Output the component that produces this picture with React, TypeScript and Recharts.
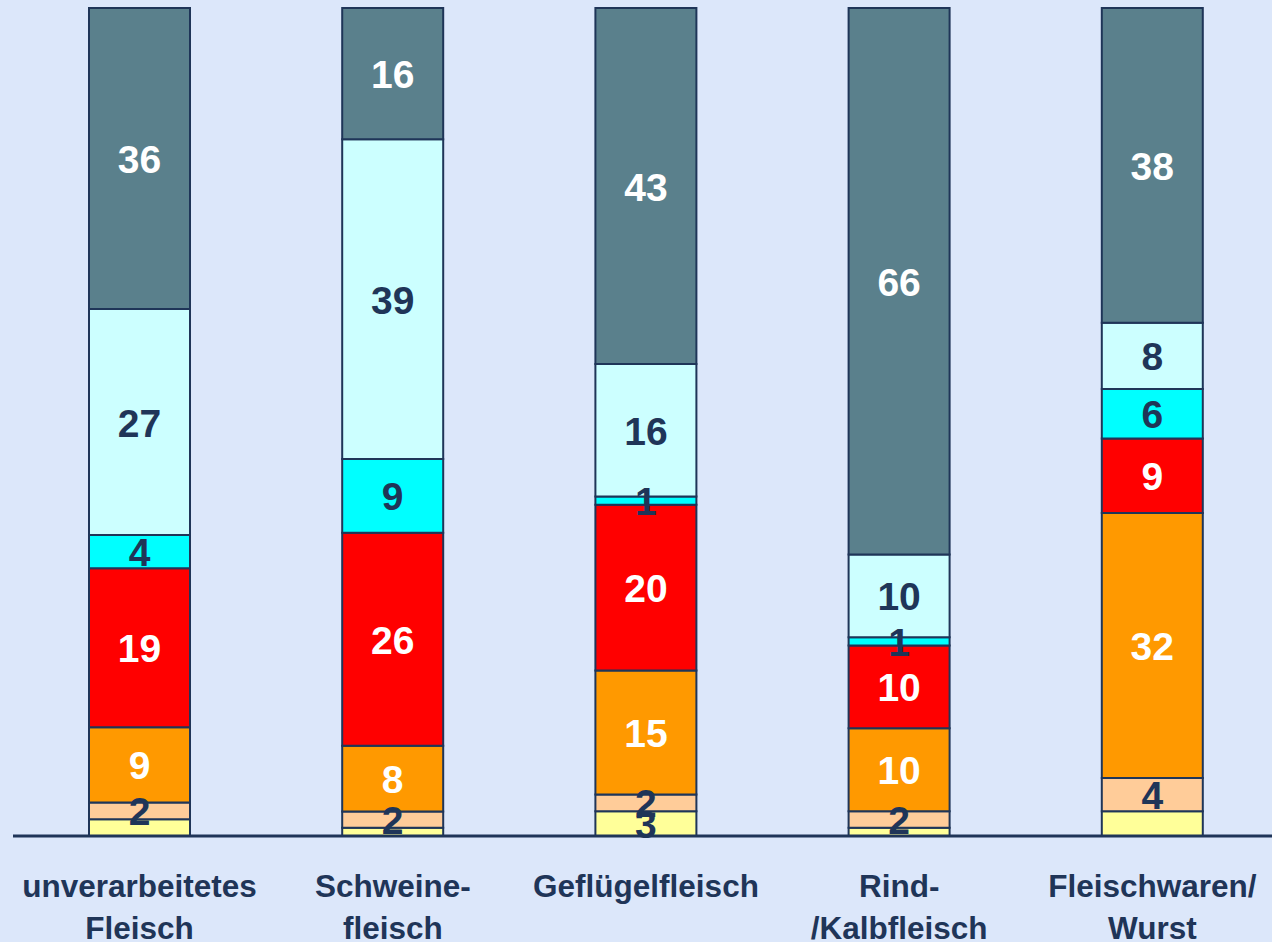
import { BarChart, Bar, XAxis, YAxis, LabelList } from "recharts"

// categories (first / second line of the tick label)
const categories = ["unverarbeitetes Fleisch", "Schweinefleisch", "Geflügelfleisch", "Rind-/Kalbfleisch", "Fleischwaren/Wurst"]
const tickLine1 = ["unverarbeitetes", "Schweine-", "Geflügelfleisch", "Rind-", "Fleischwaren/"]
const tickLine2 = ["Fleisch", "fleisch", "", "/Kalbfleisch", "Wurst"]

// segments from bottom to top
const yellow = [2, 1, 3, 1, 3]
const yellowShown = [false, false, true, false, false]
const peach = [2, 2, 2, 2, 4]
const orange = [9, 8, 15, 10, 32]
const red = [19, 26, 20, 10, 9]
const cyan = [4, 9, 1, 1, 6]
const lightCyan = [27, 39, 16, 10, 8]
const slate = [36, 16, 43, 66, 38]

const NAVY = "#1F3558"
const FONT = "Arial, 'Liberation Sans', sans-serif"

const data = categories.map((name, i) => ({
  name,
  yellow: yellow[i],
  yellowLabel: yellowShown[i] ? yellow[i] : null,
  peach: peach[i],
  orange: orange[i],
  red: red[i],
  cyan: cyan[i],
  lightCyan: lightCyan[i],
  slate: slate[i],
}))

const series = [
  { key: "yellow", label: "yellowLabel", fill: "#FFFF99", text: NAVY },
  { key: "peach", label: "peach", fill: "#FFCC99", text: NAVY },
  { key: "orange", label: "orange", fill: "#FF9900", text: "#FFFFFF" },
  { key: "red", label: "red", fill: "#FF0000", text: "#FFFFFF" },
  { key: "cyan", label: "cyan", fill: "#00FFFF", text: NAVY },
  { key: "lightCyan", label: "lightCyan", fill: "#CCFFFF", text: NAVY },
  { key: "slate", label: "slate", fill: "#5A808C", text: "#FFFFFF" },
]

const makeLabel = (color: string) => (props: any) => {
  const { x, y, width, height, value } = props
  if (value === null || value === undefined || value === "") return null
  return (
    <text
      x={x + width / 2}
      y={y + height / 2 + 1}
      textAnchor="middle"
      dominantBaseline="central"
      fill={color}
      fontSize={39}
      fontWeight="bold"
      fontFamily={FONT}
    >
      {value}
    </text>
  )
}

const CategoryTick = (props: any) => {
  const { x, y, index } = props
  return (
    <g>
      <text x={x} y={y + 61} textAnchor="middle" fill={NAVY} fontSize={31.5} fontWeight="bold" fontFamily={FONT}>
        {tickLine1[index]}
      </text>
      <text x={x} y={y + 103} textAnchor="middle" fill={NAVY} fontSize={31.5} fontWeight="bold" fontFamily={FONT}>
        {tickLine2[index]}
      </text>
    </g>
  )
}

export default function App() {
  return (
    <div
      style={{
        position: "absolute",
        left: 0,
        top: 0,
        width: 1272,
        height: 942,
        overflow: "hidden",
        background: "#DCE7FA",
      }}
    >
      <BarChart
        width={1280}
        height={942}
        data={data}
        stackOffset="expand"
        margin={{ top: 8, right: 1, left: 13, bottom: 0 }}
      >
        <XAxis
          dataKey="name"
          height={106}
          axisLine={{ stroke: NAVY, strokeWidth: 3 }}
          tickLine={false}
          tickSize={0}
          tickMargin={0}
          tick={<CategoryTick />}
          interval={0}
        />
        <YAxis hide domain={[0, 1]} />
        {series.map((s) => (
          <Bar
            key={s.key}
            dataKey={s.key}
            stackId="a"
            fill={s.fill}
            stroke={NAVY}
            strokeWidth={2}
            barSize={101}
            isAnimationActive={false}
          >
            <LabelList dataKey={s.label} content={makeLabel(s.text)} />
          </Bar>
        ))}
      </BarChart>
    </div>
  )
}
